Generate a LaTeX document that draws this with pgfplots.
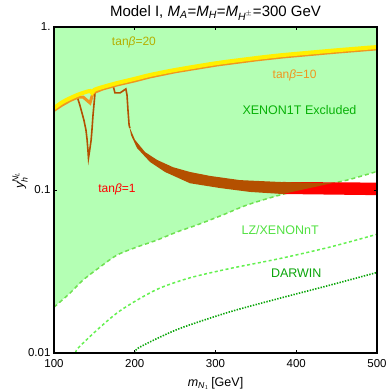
\documentclass[border=0pt]{standalone}
\usepackage{fontspec}
\setmainfont{Liberation Sans}
\usepackage{amsmath}
\usepackage{pgfplots}
\pgfplotsset{compat=1.18}
\usetikzlibrary{calc}

\definecolor{xenonfill}{RGB}{180,255,180}
\definecolor{xenonline}{RGB}{110,225,80}
\definecolor{lzline}{RGB}{100,240,80}
\definecolor{darwinline}{RGB}{10,165,10}
\definecolor{tbyellow}{RGB}{255,240,0}
\definecolor{tbtwentytxt}{RGB}{180,175,0}
\definecolor{tborange}{RGB}{240,150,30}
\definecolor{tbbrown}{RGB}{180,80,0}
\definecolor{tbred}{RGB}{255,0,0}

\newcommand{\iv}[1]{\text{\itshape #1}}

\begin{document}
\begin{tikzpicture}
\begin{axis}[
    name=ax,
    scale only axis,
    width=323pt, height=326pt,
    xmin=100, xmax=500,
    ymin=0.01, ymax=1,
    ymode=log,
    xtick={100,200,300,400,500},
    xticklabels={100,200,300,400,500},
    ytick={0.01,0.1,1},
    yticklabels={0.01,0.1,1.},
    yminorticks=false,
    tick align=inside,
    major tick length=3pt,
    tick style={black, line width=0.6pt},
    axis line style={line width=1.4pt},
    axis on top,
    ticklabel style={font=\fontsize{11.5}{13}\selectfont},
    xticklabel style={yshift=-3pt},
    xlabel={$\iv{m}_{\iv{N}_1}$\,[GeV]},
    xlabel style={font=\fontsize{12.5}{14}\selectfont, yshift=-3pt},
    title={Model I, $\iv{M}_{\iv{A}}$=$\iv{M}_{\iv{H}}$=$\iv{M}_{\iv{H}^{\pm}}$=300 GeV},
    title style={font=\fontsize{15}{17}\selectfont, yshift=-3pt},
    clip=false,
]

% XENON1T excluded region
\addplot[fill=xenonfill, draw=none] coordinates {
 (100,1) (100,0.0191) (119.8,0.0233) (135.9,0.0280) (157,0.0337) (178,0.0399)
 (202.8,0.0447) (227.6,0.0493) (252.3,0.0553) (277,0.061) (309,0.0703)
 (339,0.0809) (380,0.0932) (420.8,0.104) (462.9,0.115) (500,0.130) (500,1)
} -- cycle;

% XENON1T boundary
\addplot[xenonline, line width=1.5pt, dash pattern=on 4pt off 3pt, smooth] coordinates {
 (100,0.0191) (119.8,0.0233) (135.9,0.0280) (157,0.0337) (178,0.0399)
 (202.8,0.0447) (227.6,0.0493) (252.3,0.0553) (277,0.061) (309,0.0703)
 (339,0.0809) (380,0.0932) (420.8,0.104) (462.9,0.115) (500,0.130)
};

% LZ/XENONnT
\addplot[lzline, line width=1.5pt, dash pattern=on 3pt off 2.5pt, smooth] coordinates {
 (127,0.0100) (129.7,0.0107) (153,0.0138) (178,0.0176) (202.8,0.0211)
 (231,0.0250) (268,0.0289) (318,0.0330) (380,0.0380) (442,0.0447) (500,0.0535)
};

% DARWIN
\addplot[darwinline, line width=1.6pt, dash pattern=on 1.4pt off 1.4pt, smooth] coordinates {
 (200.3,0.0100) (204,0.0107) (231,0.0125) (260,0.0144) (318,0.0179)
 (380,0.0217) (442,0.0261) (500,0.0312)
};

% tan beta = 1, red part
\addplot[fill=tbred, draw=none] coordinates {
 (383,0.112) (500,0.111) (500,0.093) (383,0.0945)
} -- cycle;

% tan beta = 1, brown band
\addplot[fill=tbbrown, draw=none] coordinates {
 (193,0.250) (194,0.240) (200.3,0.203) (212.7,0.171) (227.6,0.153) (247.4,0.138)
 (268.4,0.129) (293.2,0.122) (330.3,0.115) (380,0.112) (444,0.110)
 (383,0.0945) (342.7,0.0973) (305.6,0.1028) (268.4,0.110) (237.5,0.129)
 (218.9,0.1486) (202.8,0.181) (195.4,0.217) (193,0.250)
} -- cycle;

% tan beta = 1, thin branches
\addplot[tbbrown, line width=1.6pt] coordinates {
 (128.5,0.377) (132,0.332) (137,0.269) (139.6,0.233) (141,0.203) (142,0.176)
 (142.7,0.157) (144.6,0.181) (146,0.203) (147,0.233) (148.3,0.288) (150.8,0.394)
};
\addplot[tbbrown, line width=1.6pt] coordinates {
 (173,0.440) (175.5,0.394) (181.7,0.394) (189,0.417) (190.4,0.383)
 (191.6,0.31) (193,0.250) (194,0.240)
};

% tan beta = 10
\addplot[tborange, line width=3pt] coordinates {
 (100,0.308) (110,0.332) (120,0.354) (130,0.372) (136,0.372) (144.6,0.342)
 (148.3,0.394) (160,0.416) (178,0.441) (200,0.467) (219,0.494) (250,0.531)
 (302,0.585) (350,0.628) (383.6,0.655) (450,0.701) (500,0.734)
};

% tan beta = 20
\addplot[tbyellow, line width=4pt, smooth, tension=0.4] coordinates {
 (100,0.318) (110,0.345) (120,0.366) (130,0.385) (140,0.400) (145,0.405)
 (147,0.395) (150,0.412) (160,0.428) (178,0.453) (200,0.481) (219,0.508)
 (250,0.545) (302,0.601) (350,0.645) (383.6,0.673) (450,0.720) (500,0.754)
};

% labels
\node[tbtwentytxt, font=\fontsize{12}{14}\selectfont] at (axis cs:199,0.80) {tan\textit{β}=20};
\node[tborange, font=\fontsize{12}{14}\selectfont] at (axis cs:398,0.508) {tan\textit{β}=10};
\node[darwinline!85!green, font=\fontsize{12.5}{14}\selectfont] at (axis cs:404,0.31) {XENON1T Excluded};
\node[tbred, font=\fontsize{12}{14}\selectfont] at (axis cs:178,0.101) {tan\textit{β}=1};
\node[lzline!80!darwinline, font=\fontsize{12.5}{14}\selectfont] at (axis cs:380,0.0568) {LZ/XENONnT};
\node[darwinline, font=\fontsize{12.5}{14}\selectfont] at (axis cs:400,0.031) {DARWIN};

% y axis label
\node[rotate=90, font=\fontsize{12.5}{14}\selectfont, xshift=0pt] at ([xshift=-34pt]axis cs:100,0.115) {$\iv{y}_{\iv{h}}^{\iv{N}_{\iv{L}}}$};

\end{axis}
\pgfresetboundingbox
\path[use as bounding box] ($(ax.south west)+(-54pt,-39pt)$) rectangle ($(ax.north east)+(13pt,27pt)$);
\end{tikzpicture}
\end{document}
